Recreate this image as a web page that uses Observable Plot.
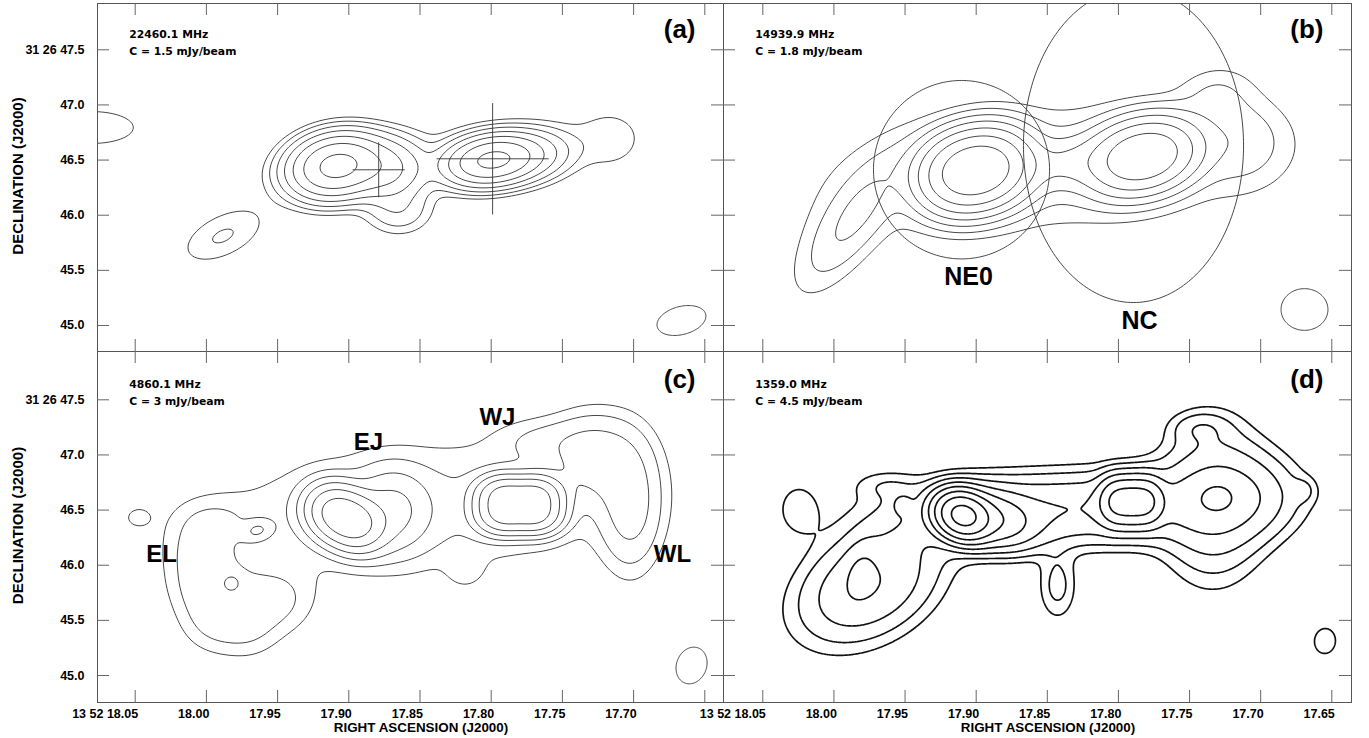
<!DOCTYPE html>
<html>
<head>
<meta charset="utf-8">
<script src="https://cdn.jsdelivr.net/npm/d3@7"></script>
<script src="https://cdn.jsdelivr.net/npm/@observablehq/plot@0.6"></script>
<style>
  body { margin: 0; background: #fff; }
  #wrap { position: relative; width: 1369px; height: 738px; overflow: hidden; background: #fff; }
  #wrap svg { position: absolute; overflow: visible !important; background: transparent !important; max-width: none !important; }
</style>
</head>
<body>
<div id="wrap"></div>
<script>
// ---------------- data ----------------
const raTickValues = [18.05, 18.00, 17.95, 17.90, 17.85, 17.80, 17.75, 17.70, 17.65];
const raTickLabels = ["13 52 18.05", "18.00", "17.95", "17.90", "17.85", "17.80", "17.75", "17.70", "17.65"];
const decTickValues = [47.5, 47.0, 46.5, 46.0, 45.5, 45.0];
const decTickLabels = ["31 26 47.5", "47.0", "46.5", "46.0", "45.5", "45.0"];

const panelLetters = ["(a)", "(b)", "(c)", "(d)"];
const frequencies = ["22460.1 MHz", "14939.9 MHz", "4860.1 MHz", "1359.0 MHz"];
const contourUnits = ["C = 1.5 mJy/beam", "C = 1.8 mJy/beam", "C = 3 mJy/beam", "C = 4.5 mJy/beam"];
const contourLevels = [1, 2, 4, 8, 16, 32, 64, 128, 256]; // multiples of C

// emission components: [RA s, Dec arcsec, peak (C), sigma major ", sigma minor ", tilt deg]
const componentsA = [
  [17.9086, 46.4463, 80, 0.217, 0.145, 10],
  [17.8742, 46.4236, 18, 0.199, 0.154, 0],
  [17.7998, 46.4989, 72, 0.217, 0.114, 8],
  [17.7759, 46.5325, 11.5, 0.235, 0.127, 8],
  [17.8651, 46.0428, 3.3, 0.181, 0.134, 0],
  [17.7162, 46.6866, 1.3, 0.208, 0.190, 0],
  [17.8426, 46.4962, 1.0, 1.086, 0.226, 8],
  [17.9887, 45.8070, 2.1, 0.271, 0.136, 25],
  [18.0800, 46.7954, 1.5, 0.407, 0.160, 0]
];
const componentsB = [
  [17.9096, 46.3783, 73, 0.217, 0.181, 15],
  [17.8913, 46.4327, 73, 0.217, 0.181, 15],
  [17.7915, 46.5053, 34, 0.235, 0.172, 15],
  [17.7739, 46.5597, 34, 0.235, 0.172, 15],
  [17.8372, 46.4690, 6, 0.226, 0.136, 10],
  [17.8478, 46.4300, 2.4, 1.267, 0.380, 4],
  [17.9848, 45.9975, 3.5, 0.407, 0.145, 55],
  [17.9989, 45.7708, 0.9, 0.543, 0.271, 55],
  [17.7142, 46.6775, 2.5, 0.271, 0.253, 0],
  [17.7318, 47.1128, 1.6, 0.226, 0.163, 10]
];
const componentsC = [
  [17.9093, 46.4781, 36, 0.154, 0.136, -30],
  [17.8953, 46.3783, 36, 0.154, 0.136, -30],
  [17.8693, 46.4962, 8, 0.199, 0.217, 0],
  [17.7914, 46.6322, 36, 0.136, 0.100, 0],
  [17.7689, 46.6322, 36, 0.136, 0.100, 0],
  [17.7914, 46.4599, 36, 0.136, 0.100, 0],
  [17.7689, 46.4599, 36, 0.136, 0.100, 0],
  [17.8497, 46.5143, 2.4, 1.267, 0.400, 4],
  [18.0041, 46.1516, 2.0, 0.199, 0.199, 0],
  [18.0041, 45.8161, 2.0, 0.199, 0.199, 0],
  [17.9957, 45.4987, 2.0, 0.199, 0.199, 0],
  [17.9704, 45.4534, 2.0, 0.199, 0.199, 0],
  [17.9459, 45.6801, 1.8, 0.199, 0.199, 0],
  [17.9725, 45.8161, 1.0, 0.199, 0.199, 0],
  [17.9936, 46.4055, 1.2, 0.226, 0.136, 0],
  [17.9641, 46.3148, 3.0, 0.090, 0.059, 15],
  [17.9817, 45.8433, 2.0, 0.060, 0.060, 0],
  [18.0477, 46.4327, 1.3, 0.081, 0.063, 0],
  [17.7268, 46.9949, 5, 0.253, 0.244, 0],
  [17.7022, 46.5415, 5, 0.172, 0.362, 0],
  [17.7654, 47.1309, 1.6, 0.271, 0.136, 0],
  [17.8181, 45.9521, 1.0, 0.109, 0.109, 0]
];
const componentsD = [
  [17.9096, 46.4509, 153, 0.136, 0.109, -25],
  [17.8899, 46.4236, 25, 0.226, 0.136, -15],
  [17.8021, 46.5778, 27, 0.0905, 0.124, 0],
  [17.7908, 46.5778, 27, 0.0905, 0.124, 0],
  [17.7796, 46.5778, 27, 0.0905, 0.124, 0],
  [17.7304, 46.6141, 6, 0.109, 0.0905, 0],
  [17.7339, 46.5869, 7.5, 0.271, 0.400, 0],
  [17.8829, 46.4781, 7, 0.633, 0.199, 3],
  [17.7774, 46.5415, 7, 0.633, 0.199, 3],
  [17.7072, 46.6322, 4, 0.271, 0.253, 0],
  [17.7423, 47.2398, 2.5, 0.163, 0.0905, 0],
  [17.9637, 46.7229, 1.5, 0.199, 0.0905, 0],
  [17.9518, 46.5506, 3.5, 0.054, 0.054, 0],
  [17.9757, 45.8161, 8, 0.407, 0.271, 30],
  [17.9813, 45.9612, 3, 0.0905, 0.163, -10],
  [18.0249, 46.5143, 1.5, 0.145, 0.181, 0],
  [17.8428, 45.8161, 2.5, 0.109, 0.199, 0],
  [17.6699, 46.6775, 1.5, 0.072, 0.072, 0]
];

// restoring beams (one per panel): centre, semi-axes (arcsec), tilt (deg)
const beamRA = [17.6664, 17.6692, 17.6593, 17.6548];
const beamDec = [45.0453, 45.1451, 45.0907, 45.3128];
const beamMajor = [0.225, 0.211, 0.170, 0.113];
const beamMinor = [0.127, 0.189, 0.135, 0.094];
const beamTilt = [15, 0, 70, 85];

// panel (a) component positions with error bars
const crossRA = [17.8790, 17.7990];
const crossDec = [46.4119, 46.5116];
const crossErrRA = [0.0183, 0.0393];
const crossErrDec = [0.249, 0.505];

// panel (b) regions
const regionNames = ["NE0", "NC"];
const regionRA = [17.9103, 17.7894];
const regionDec = [46.4128, 46.6322];
const regionSemiX = [0.792, 0.990];
const regionSemiY = [0.809, 1.424];
const regionLabelRA = [17.9054, 17.7852];
const regionLabelDec = [45.4353, 45.0453];

// panel (c) feature names
const featureNames = ["EJ", "WJ", "EL", "WL"];
const featureRA = [17.8862, 17.7956, 18.0315, 17.6727];
const featureDec = [47.1128, 47.3395, 46.0972, 46.0972];

// ---------------- helpers ----------------
const SEC2ARC = 15 * Math.cos(31.4463 * Math.PI / 180); // arcsec per RA second at this declination
const AXIS_FONT = "'Liberation Sans', Arial, Helvetica, sans-serif";
const NOTE_FONT = "'DejaVu Sans', Verdana, sans-serif";

function fieldOf(comps) {
  const cs = comps.map(([ra, dec, amp, sx, sy, tilt]) => {
    const t = tilt * Math.PI / 180;
    return {ra, dec, amp, ix: 1 / sx, iy: 1 / sy, c: Math.cos(t), s: Math.sin(t)};
  });
  return (x, y) => {
    let v = 0;
    for (const k of cs) {
      const u = (k.ra - x) * SEC2ARC;
      const w = y - k.dec;
      const a = (u * k.c + w * k.s) * k.ix;
      const b = (-u * k.s + w * k.c) * k.iy;
      const q = a * a + b * b;
      if (q < 80) v += k.amp * Math.exp(-0.5 * q);
    }
    return v;
  };
}

function ellipsePoints(ra, dec, semiA, semiB, tiltDeg, n = 120) {
  const t = tiltDeg * Math.PI / 180;
  const pts = [];
  for (let i = 0; i < n; ++i) {
    const p = (2 * Math.PI * i) / n;
    const u = semiA * Math.cos(p) * Math.cos(t) - semiB * Math.sin(p) * Math.sin(t);
    const w = semiA * Math.cos(p) * Math.sin(t) + semiB * Math.sin(p) * Math.cos(t);
    pts.push({x: ra - u / SEC2ARC, y: dec + w});
  }
  return pts;
}

const wrap = document.getElementById("wrap");
const X_LEFT = [18.07647, 17.63687];
const X_RIGHT = [18.07763, 17.63615];
const Y_TOP = [44.7642, 47.9198];
const Y_BOT = [44.7552, 47.9380];

const panels = [
  {i: 0, left: 0, top: 0, width: 723, height: 351, mL: 97, mR: 0, mT: 3, mB: 0, xd: X_LEFT, yd: Y_TOP, comps: componentsA, yLabels: true, xLabels: 0, ink: "#333", sw: 0.9},
  {i: 1, left: 723, top: 0, width: 646, height: 351, mL: 0, mR: 18, mT: 3, mB: 0, xd: X_RIGHT, yd: Y_TOP, comps: componentsB, yLabels: false, xLabels: 0, ink: "#333", sw: 0.9},
  {i: 2, left: 0, top: 351, width: 723, height: 387, mL: 97, mR: 0, mT: 0, mB: 36, xd: X_LEFT, yd: Y_BOT, comps: componentsC, yLabels: true, xLabels: 8, ink: "#333", sw: 0.9},
  {i: 3, left: 600, top: 351, width: 769, height: 387, mL: 123, mR: 18, mT: 0, mB: 36, xd: X_RIGHT, yd: Y_BOT, comps: componentsD, yLabels: false, xLabels: 9, ink: "#111", sw: 1.7}
];

for (const p of panels) {
  const fw = p.width - p.mL - p.mR, fh = p.height - p.mT - p.mB;
  const tX = (p.xd[0] - p.xd[1]) * 12 / fw;
  const tY = (p.yd[1] - p.yd[0]) * 12 / fh;
  const tickInk = "#666";
  const marks = [];

  marks.push(Plot.contour({
    value: fieldOf(p.comps),
    x1: p.xd[0], x2: p.xd[1], y1: p.yd[1], y2: p.yd[0],
    thresholds: contourLevels, pixelSize: 1,
    stroke: p.ink, strokeWidth: p.sw, fill: "none", clip: true
  }));

  // beam
  marks.push(Plot.line(ellipsePoints(beamRA[p.i], beamDec[p.i], beamMajor[p.i], beamMinor[p.i], beamTilt[p.i]),
    {x: "x", y: "y", curve: "linear-closed", stroke: p.ink, strokeWidth: p.sw, clip: true}));

  if (p.i === 0) {
    const cr = crossRA.map((ra, k) => ({ra, dec: crossDec[k], eRA: crossErrRA[k], eDec: crossErrDec[k]}));
    marks.push(Plot.link(cr, {x1: d => d.ra + d.eRA, x2: d => d.ra - d.eRA, y1: "dec", y2: "dec", stroke: "#333", strokeWidth: 0.9}));
    marks.push(Plot.link(cr, {x1: "ra", x2: "ra", y1: d => d.dec - d.eDec, y2: d => d.dec + d.eDec, stroke: "#333", strokeWidth: 0.9}));
  }
  if (p.i === 1) {
    regionNames.forEach((name, k) => {
      marks.push(Plot.line(ellipsePoints(regionRA[k], regionDec[k], regionSemiX[k], regionSemiY[k], 0, 240),
        {x: "x", y: "y", curve: "linear-closed", stroke: "#333", strokeWidth: 0.9, clip: true}));
    });
    marks.push(Plot.text(regionNames.map((n, k) => ({n, ra: regionLabelRA[k], dec: regionLabelDec[k]})),
      {x: "ra", y: "dec", text: "n", fontSize: 25, fontWeight: "bold", fontFamily: AXIS_FONT, fill: "#000", lineAnchor: "middle"}));
  }
  if (p.i === 2) {
    marks.push(Plot.text(featureNames.map((n, k) => ({n, ra: featureRA[k], dec: featureDec[k]})),
      {x: "ra", y: "dec", text: "n", fontSize: 24, fontWeight: "bold", fontFamily: AXIS_FONT, fill: "#000", lineAnchor: "middle"}));
  }

  // frame and inward ticks on all four sides
  marks.push(Plot.frame({stroke: "#555", strokeWidth: 1}));
  marks.push(Plot.ruleX(raTickValues, {x: d => d, y1: p.yd[0], y2: p.yd[0] + tY, stroke: tickInk}));
  marks.push(Plot.ruleX(raTickValues, {x: d => d, y1: p.yd[1] - tY, y2: p.yd[1], stroke: tickInk}));
  marks.push(Plot.ruleY(decTickValues, {y: d => d, x1: p.xd[0], x2: p.xd[0] - tX, stroke: tickInk}));
  marks.push(Plot.ruleY(decTickValues, {y: d => d, x1: p.xd[1] + tX, x2: p.xd[1], stroke: tickInk}));

  // panel notes
  const topOff = p.i < 2 ? 0 : 2;
  marks.push(Plot.text([frequencies[p.i]], {frameAnchor: "top-left", dx: 31.7, dy: 31.2 + topOff, text: d => d, lineAnchor: "middle", textAnchor: "start", fontSize: 10.8, fontWeight: "bold", fontFamily: NOTE_FONT, fill: "#000"}));
  marks.push(Plot.text([contourUnits[p.i]], {frameAnchor: "top-left", dx: 31.7, dy: 47.8 + topOff, text: d => d, lineAnchor: "middle", textAnchor: "start", fontSize: 10.8, fontWeight: "bold", fontFamily: NOTE_FONT, fill: "#000"}));
  marks.push(Plot.text([panelLetters[p.i]], {frameAnchor: "top-right", dx: -28, dy: 26.5 + topOff, text: d => d, lineAnchor: "middle", textAnchor: "end", fontSize: 26, fontWeight: "bold", fontFamily: AXIS_FONT, fill: "#000"}));

  if (p.yLabels) {
    const rows = decTickValues.map((v, k) => ({v, s: decTickLabels[k]}));
    marks.push(Plot.text(rows, {x: p.xd[0], y: "v", text: "s", dx: -13, textAnchor: "end", lineAnchor: "middle", fontSize: 12.5, fontWeight: "bold", fontFamily: AXIS_FONT, fill: "#000"}));
    marks.push(Plot.text(["DECLINATION (J2000)"], {frameAnchor: "left", dx: -79, dy: -1.5, text: d => d, rotate: -90, textAnchor: "middle", lineAnchor: "middle", fontSize: 15, fontWeight: "bold", fontFamily: AXIS_FONT, fill: "#000"}));
  }
  if (p.xLabels) {
    const rows = raTickValues.slice(0, p.xLabels).map((v, k) => ({v, s: raTickLabels[k]}));
    marks.push(Plot.text(rows, {x: "v", y: p.yd[0], text: "s", dx: 3, dy: 11, textAnchor: "end", lineAnchor: "middle", fontSize: 12.5, fontWeight: "bold", fontFamily: AXIS_FONT, fill: "#000"}));
    marks.push(Plot.text(["RIGHT ASCENSION (J2000)"], {frameAnchor: "bottom", dx: 10.5, dy: 25.7, text: d => d, textAnchor: "middle", lineAnchor: "middle", fontSize: 13.4, fontWeight: "bold", fontFamily: AXIS_FONT, fill: "#000"}));
  }

  const svg = Plot.plot({
    width: p.width, height: p.height,
    marginLeft: p.mL, marginRight: p.mR, marginTop: p.mT, marginBottom: p.mB,
    x: {domain: p.xd, axis: null},
    y: {domain: p.yd, axis: null},
    style: {background: "transparent", overflow: "visible"},
    marks
  });
  svg.style.left = p.left + "px";
  svg.style.top = p.top + "px";
  wrap.appendChild(svg);
}
</script>
</body>
</html>
